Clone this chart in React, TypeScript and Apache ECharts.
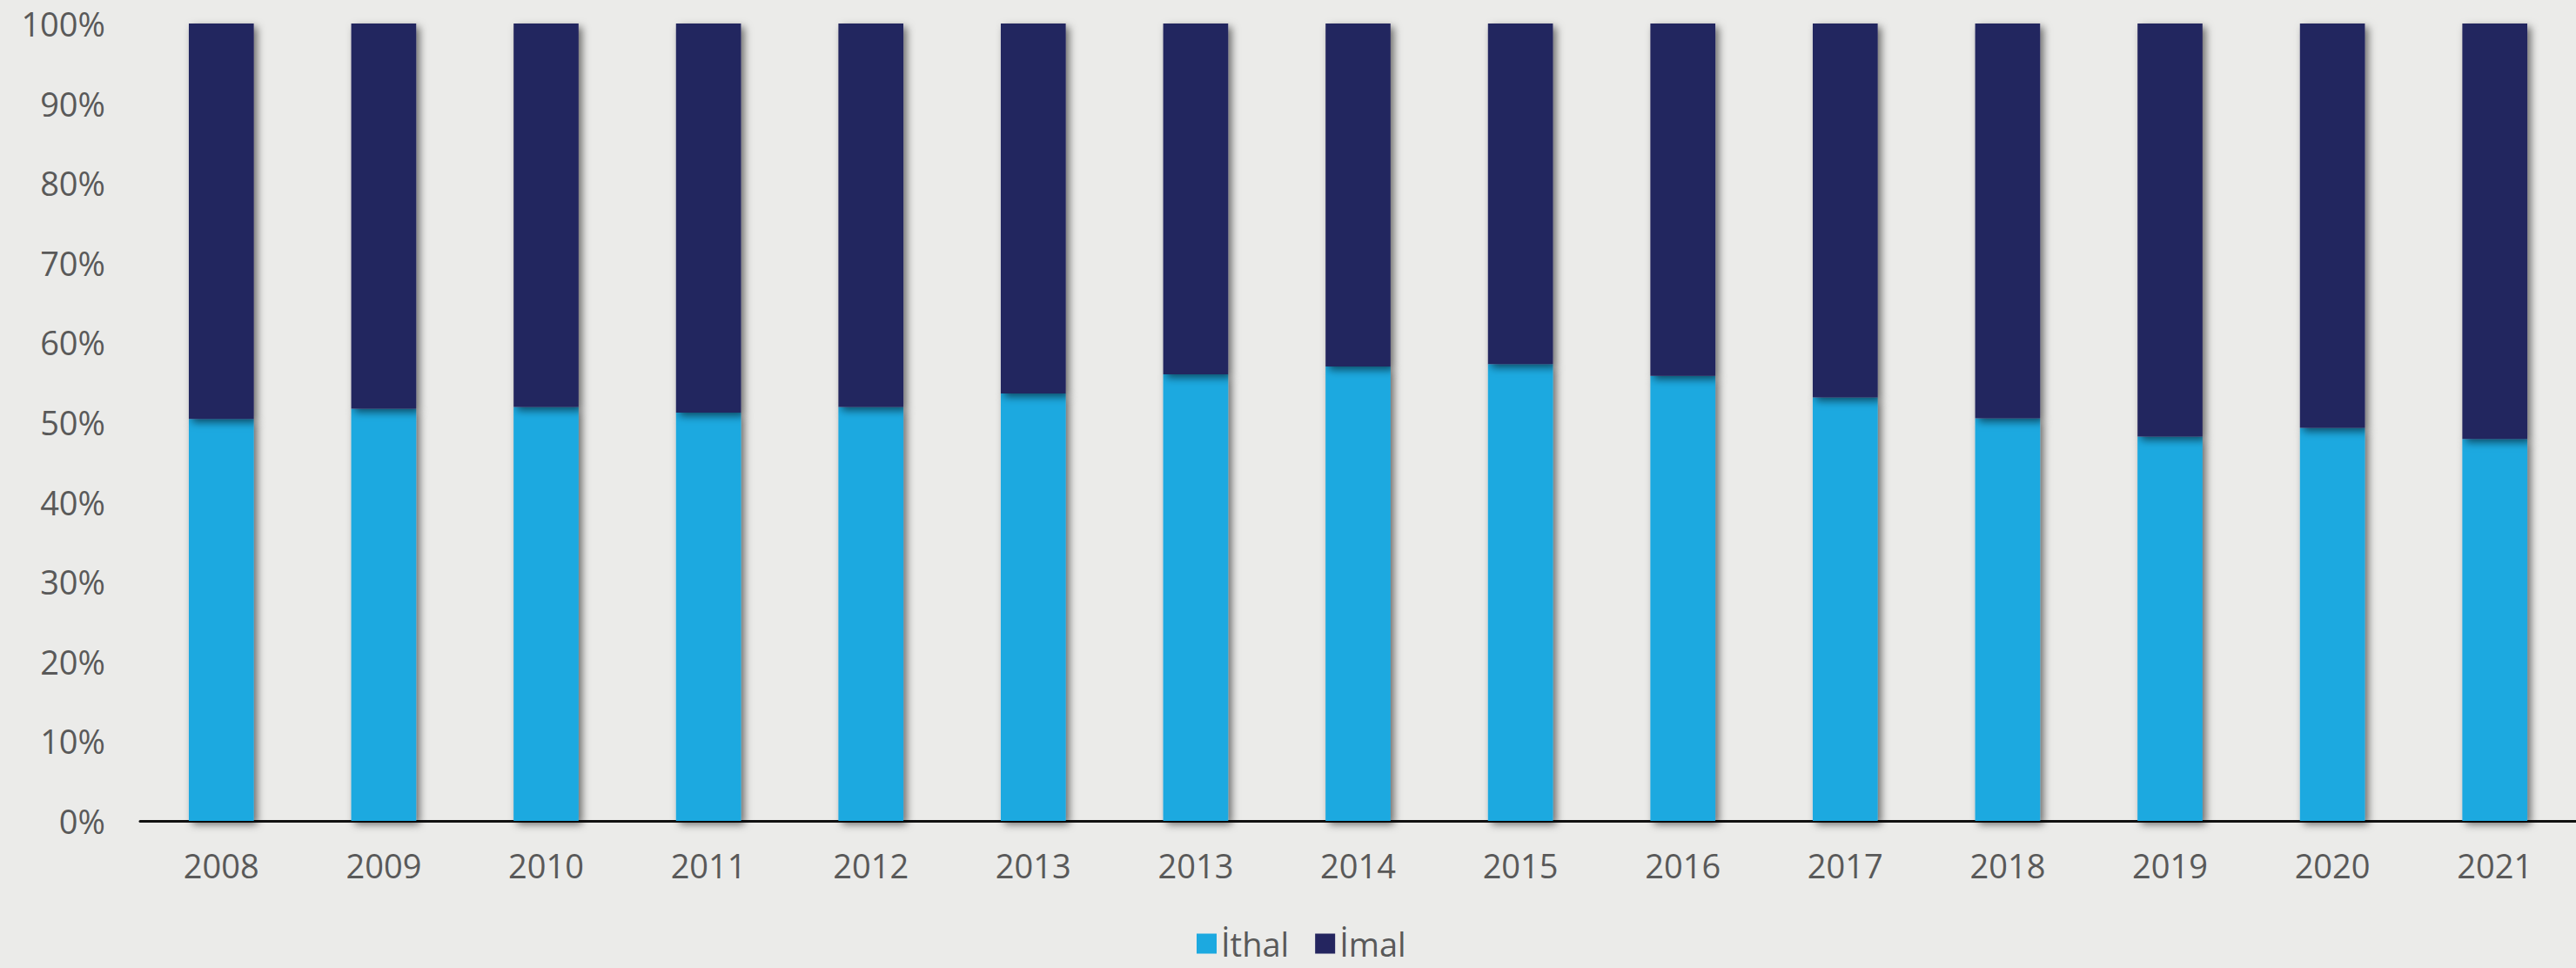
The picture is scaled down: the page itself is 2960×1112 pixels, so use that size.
import React, { useEffect, useRef } from "react";
import * as echarts from "echarts";

const categories = ["2008", "2009", "2010", "2011", "2012", "2013", "2013", "2014", "2015", "2016", "2017", "2018", "2019", "2020", "2021"];
const ithal = [50.4, 51.7, 51.9, 51.2, 51.9, 53.6, 56.0, 57.0, 57.3, 55.8, 53.1, 50.5, 48.2, 49.3, 47.9];
const imal = [49.6, 48.3, 48.1, 48.8, 48.1, 46.4, 44.0, 43.0, 42.7, 44.2, 46.9, 49.5, 51.8, 50.7, 52.1];
const seriesNames = ["İthal", "İmal"];
const colors = ["#1CA9E0", "#24255F"];

export default function App() {
  const ref = useRef<HTMLDivElement>(null);
  useEffect(() => {
    document.body.style.margin = "0";
    const chart = echarts.init(ref.current!, undefined, { renderer: "svg" });
    const fontFamily = "'Open Sans', sans-serif";
    const shadow = {
      shadowBlur: 10,
      shadowOffsetX: 4,
      shadowOffsetY: 4,
      shadowColor: "rgba(0,0,0,0.55)",
    };
    chart.setOption({
      animation: false,
      backgroundColor: "#EBEBE9",
      textStyle: { fontFamily },
      grid: { left: 161, top: 27, width: 2803, height: 916, containLabel: false },
      legend: {
        data: seriesNames,
        left: 1375,
        top: 1064,
        padding: 0,
        icon: "rect",
        itemWidth: 23,
        itemHeight: 23,
        itemGap: 30,
        textStyle: { fontSize: 38, lineHeight: 40, color: "#595959", fontFamily },
      },
      xAxis: {
        type: "category",
        data: categories,
        axisLine: { show: true, lineStyle: { color: "#111", width: 3 } },
        axisTick: { show: false },
        axisLabel: { fontSize: 38, color: "#595959", margin: 32, fontFamily },
        splitLine: { show: false },
      },
      yAxis: {
        type: "value",
        min: 0,
        max: 100,
        interval: 10,
        axisLine: { show: false },
        axisTick: { show: false },
        splitLine: { show: false },
        axisLabel: { fontSize: 38, color: "#595959", margin: 40, formatter: "{value}%", fontFamily },
      },
      series: [
        {
          name: seriesNames[0],
          type: "bar",
          stack: "total",
          barWidth: "40%",
          data: ithal,
          itemStyle: { color: colors[0], ...shadow },
        },
        {
          name: seriesNames[1],
          type: "bar",
          stack: "total",
          barWidth: "40%",
          data: imal,
          itemStyle: { color: colors[1], ...shadow },
        },
      ],
    });
    return () => chart.dispose();
  }, []);
  return <div ref={ref} style={{ position: "absolute", left: 0, top: 0, width: 2960, height: 1112 }} />;
}
